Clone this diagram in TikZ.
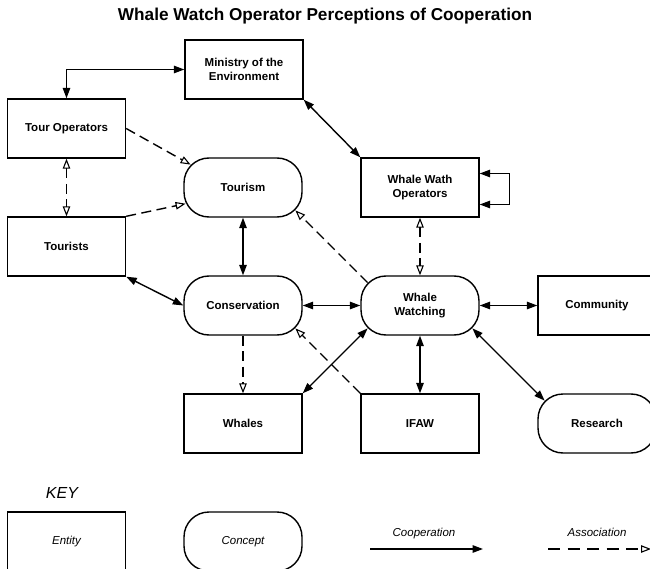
\documentclass[tikz,border=0pt]{standalone}
\usepackage{fontspec}
\setmainfont{Liberation Sans}
\usetikzlibrary{arrows.meta}

\tikzset{
  box/.style={draw, line width=1.4pt, minimum width=118pt, minimum height=59pt,
    inner sep=2pt, align=center, font=\fontsize{11.5}{14.5}\selectfont\bfseries},
  entity/.style={box},
  concept/.style={box, rounded corners=25pt},
  keytext/.style={font=\fontsize{11.5}{14}\selectfont\itshape},
  solidtip/.tip={Triangle[length=10.5pt,width=7.5pt]},
  opentip/.tip={Triangle[open,length=10pt,width=7.5pt,line width=1.1pt]},
  coop/.style={line width=1.4pt, solidtip-solidtip},
  coopone/.style={line width=1.4pt, -solidtip},
  assoc/.style={line width=1.4pt, dash pattern=on 10pt off 5.5pt, -opentip},
  assocboth/.style={line width=1.4pt, dash pattern=on 10pt off 5.5pt, opentip-opentip},
}

\begin{document}
\begin{tikzpicture}[x=1pt,y=-1pt]
  \useasboundingbox (0,0) rectangle (650,569);
  \fill[white] (0,0) rectangle (650,569);
  \clip (0,0) rectangle (650,569);

  % title
  \node[font=\fontsize{17.2}{20}\selectfont\bfseries] (title) at (325,16)
    {Whale Watch Operator Perceptions of Cooperation};

  % entities and concepts
  \node[entity]  (ministry) at (244,69.5)   {Ministry of the\\Environment};
  \node[entity]  (tourops)  at (66.5,128.5) {Tour Operators};
  \node[entity]  (tourists) at (66.5,246.5) {Tourists};
  \node[concept] (tourism)  at (243,187.5)  {Tourism};
  \node[entity]  (wwo)      at (420,187.5)  {Whale Wath\\Operators};
  \node[concept] (conserv)  at (243,305.5)  {Conservation};
  \node[concept] (ww)       at (420,305.5)  {Whale\\Watching};
  \node[entity]  (community) at (597,305.5) {Community};
  \node[entity]  (whales)   at (243,423.5)  {Whales};
  \node[entity]  (ifaw)     at (420,423.5)  {IFAW};
  \node[concept] (research) at (597,423.5)  {Research};

  % cooperation links
  \draw[coop] (ministry.west) -| (tourops.north);
  \draw[coop] (ministry.south east) -- (wwo.north west);
  \draw[coop] ([shift={(0,-14)}]wwo.east) -- ++(30,0) -- ++(0,31)
              -- ([shift={(0,17)}]wwo.east);
  \draw[coop] (tourism.south) -- (conserv.north);
  \draw[coop] (tourists.south east) -- (conserv.west);
  \draw[coop] (ww.west) -- (conserv.east);
  \draw[coop] (ww.east) -- (community.west);
  \draw[coop] ([shift={(7.3,-7.3)}]ww.south west) -- (whales.north east);
  \draw[coop] (ww.south) -- (ifaw.north);
  \draw[coop] ([shift={(-7.3,-7.3)}]ww.south east)
              -- ([shift={(7.3,7.3)}]research.north west);

  % association links
  \draw[assoc] (tourops.east) -- ([shift={(7.3,7.3)}]tourism.north west);
  \draw[assocboth] (tourops.south) -- (tourists.north);
  \draw[assoc] (tourists.north east) -- ([shift={(2.3,-14)}]tourism.south west);
  \draw[assoc] ([shift={(7.3,7.3)}]ww.north west)
               -- ([shift={(-7.3,-7.3)}]tourism.south east);
  \draw[assocboth] (wwo.south) -- (ww.north);
  \draw[assoc] (ifaw.north west) -- ([shift={(-7.3,-7.3)}]conserv.south east);
  \draw[assoc] (conserv.south) -- (whales.north);

  % key
  \node[font=\fontsize{16}{19}\selectfont\itshape] (keyhead) at (62,493) {KEY};
  \node[entity, font=\fontsize{11.5}{14}\selectfont\itshape] (keyentity) at (66.5,541.5) {Entity};
  \node[concept, font=\fontsize{11.5}{14}\selectfont\itshape] (keyconcept) at (243,541.5) {Concept};
  \coordinate (coopA) at (370,549);
  \coordinate (coopB) at (483,549);
  \draw[coopone] (coopA) -- (coopB);
  \node[keytext] (cooplabel) at (424,534) {Cooperation};
  \coordinate (assocA) at (548,549);
  \coordinate (assocB) at (651,549);
  \draw[assoc, dash pattern=on 12pt off 7.5pt] (assocA) -- (assocB);
  \node[keytext] (assoclabel) at (597,532) {Association};
\end{tikzpicture}
\end{document}
